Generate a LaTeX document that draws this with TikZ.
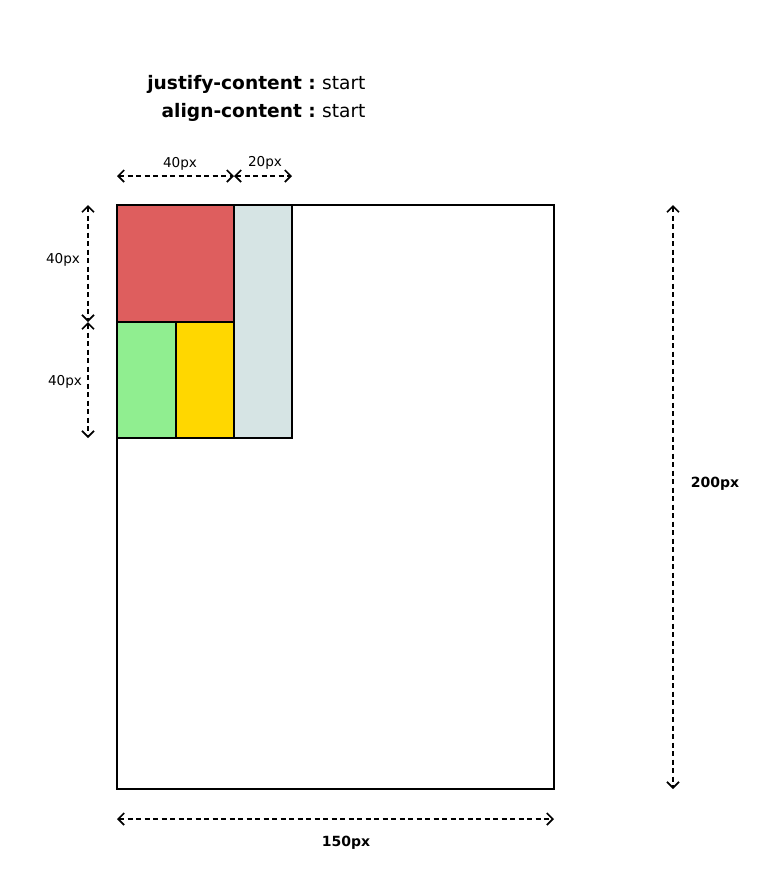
\documentclass[tikz,border=0pt]{standalone}
\usepackage{fontspec}
\setmainfont{DejaVu Sans}
\usetikzlibrary{arrows.meta}
\definecolor{cred}{HTML}{DE5E5E}
\definecolor{cgreen}{HTML}{90EE90}
\definecolor{cyellow}{HTML}{FFD700}
\definecolor{cgray}{HTML}{D6E4E4}
\begin{document}
\begin{tikzpicture}[x=1pt,y=-1pt,
  box/.style={draw=black,line width=1.3pt,inner sep=0pt,outer sep=0pt,anchor=north west},
  dim/.style={dash pattern=on 5pt off 3.5pt,line width=1.3pt,{Straight Barb[length=6pt,width=12pt,line width=1.7pt]}-{Straight Barb[length=6pt,width=12pt,line width=1.7pt]}},
  lbl/.style={font=\fontsize{13.6}{15}\selectfont,inner sep=0pt},
  blbl/.style={font=\fontsize{14}{15}\selectfont\bfseries,inner sep=0pt},
  ttl/.style={font=\fontsize{18.6}{21}\selectfont,inner sep=0pt}]
\useasboundingbox (0,0) rectangle (761,879);
\node[box,minimum width=437pt,minimum height=584pt] (cont) at (117,205) {};
\node[box,fill=cred,minimum width=117pt,minimum height=117pt] (red) at (117,205) {};
\node[box,fill=cgray,minimum width=58pt,minimum height=233pt] (gray) at (234,205) {};
\node[box,fill=cgreen,minimum width=59pt,minimum height=116pt] (green) at (117,322) {};
\node[box,fill=cyellow,minimum width=58pt,minimum height=116pt] (yellow) at (176,322) {};
% title
\node[ttl,anchor=base east] (t1a) at (316,89) {\bfseries justify-content :};
\node[ttl,anchor=base west] (t1b) at (322,89) {start};
\node[ttl,anchor=base east] (t2a) at (316,117) {\bfseries align-content :};
\node[ttl,anchor=base west] (t2b) at (322,117) {start};
% top dims
\coordinate (a1) at (117,176); \coordinate (a2) at (234,176); \coordinate (a3) at (292,176);
\draw[dim] (a1) -- (a2);
\draw[dim] (a2) -- (a3);
\node[lbl] (l40a) at (180,164) {40px};
\node[lbl] (l20) at (265,163) {20px};
% left dims
\coordinate (b1) at (88,205); \coordinate (b2) at (88,322); \coordinate (b3) at (88,438);
\draw[dim] (b1) -- (b2);
\draw[dim] (b2) -- (b3);
\node[lbl] (l40b) at (63,260) {40px};
\node[lbl] (l40c) at (65,382) {40px};
% right dim
\coordinate (c1) at (673,205); \coordinate (c2) at (673,789);
\draw[dim] (c1) -- (c2);
\node[blbl] (l200) at (715,484) {200px};
% bottom dim
\coordinate (d1) at (117,819); \coordinate (d2) at (554,819);
\draw[dim] (d1) -- (d2);
\node[blbl] (l150) at (346,843) {150px};
\end{tikzpicture}
\end{document}
